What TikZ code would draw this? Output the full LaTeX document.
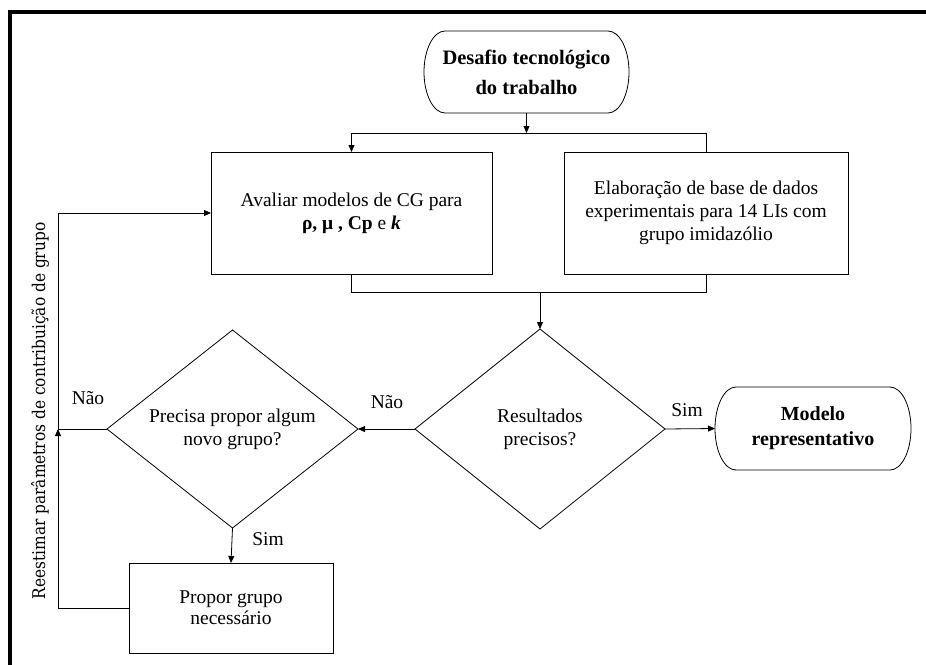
\documentclass[tikz,border=0pt]{standalone}
\usepackage{fontspec}
\setmainfont{Liberation Serif}
\newfontfamily\rotfont{DejaVu Serif}
\usetikzlibrary{arrows.meta,shapes.geometric,calc}
\newcommand\termpath[3]{%
  \draw[lw] ([xshift=#2]#1.north west) -- ([xshift=-#2]#1.north east)
    arc[start angle=90,end angle=-90,x radius=#2,y radius=#3]
    -- ([xshift=#2]#1.south west)
    arc[start angle=270,end angle=90,x radius=#2,y radius=#3] -- cycle;}
\begin{document}
\begin{tikzpicture}[x=1pt,y=1pt,
  every node/.style={font=\fontsize{19.5}{23}\selectfont, inner sep=0pt, outer sep=0pt, align=center},
  lw/.style={line width=0.8pt},
  box/.style={draw, lw},
  dec/.style={draw, lw, shape=diamond, shape aspect=1.26},
  term/.style={font=\fontsize{20.5}{30}\selectfont\bfseries},
  arr/.style={lw, -{Triangle[length=7pt,width=6pt]}},
  lbl/.style={font=\fontsize{19.5}{23}\selectfont}]
\useasboundingbox (0,0) rectangle (926,-664);
\begin{scope}
  \clip (0,0) rectangle (926,-664);
  \draw[line width=4pt] (960,-12) -- (9.5,-12) -- (9.5,-700);
\end{scope}

% nodes
\node[term, minimum width=205pt, minimum height=82pt] (start) at (526.5,-72) {Desafio tecnológico\\do trabalho};
\termpath{start}{21pt}{41pt}
\node[box, minimum width=281pt, minimum height=122pt] (boxA) at (351.5,-213)
  {Avaliar modelos de CG para\\{\bfseries ρ, μ , Cp} e {\bfseries\itshape k}};
\node[box, minimum width=284pt, minimum height=122pt] (boxB) at (706,-213)
  {Elaboração de base de dados\\experimentais para 14 LIs com\\grupo imidazólio};
\node[dec, minimum width=250pt, minimum height=200pt] (d2) at (540,-429)
  {Resultados\\precisos?};
\node[dec, minimum width=251pt, minimum height=198pt] (d1) at (232.5,-429)
  {Precisa propor algum\\novo grupo?};
\node[box, minimum width=204pt, minimum height=90pt, font=\fontsize{19.5}{21}\selectfont] (boxC) at (231,-608)
  {Propor grupo\\necessário};
\node[term, minimum width=196pt, minimum height=83pt, font=\fontsize{20}{25}\selectfont\bfseries] (model) at (813,-428.5)
  {Modelo\\representativo};
\termpath{model}{21pt}{41.5pt}

% junction coordinates
\coordinate (jt) at (526.5,-133);
\coordinate (jtl) at (351.5,-133);
\coordinate (jtr) at (706,-133);
\coordinate (jbl) at (351.5,-292);
\coordinate (jbr) at (706,-292);
\coordinate (jb) at (540,-292);
\coordinate (jl) at (58,-429);

% connectors
\draw[arr] (start.south) -- (jt);
\draw[lw] (jtl) -- (jtr);
\draw[arr] (jtl) -- (boxA.north);
\draw[lw] (jtr) -- (boxB.north);
\draw[lw] (boxA.south) -- (jbl) -- (jbr) -- (boxB.south);
\draw[arr] (jb) -- (d2.north);
\draw[arr] (d2.east) -- (model.west);
\draw[arr] (d2.west) -- (d1.east);
\draw[arr] (d1.south) -- (boxC.north);
\draw[lw] (d1.west) -- (jl);
\draw[arr] (boxC.west) -| (jl);
\draw[arr] (jl) |- (boxA.west);

% labels
\node[lbl] (l1) at (88,-398) {Não};
\node[lbl] (l2) at (387,-402) {Não};
\node[lbl] (l3) at (687,-410) {Sim};
\node[lbl] (l4) at (268,-539) {Sim};
\node[rotate=90, font=\rotfont\fontsize{17.5}{20}\selectfont] (rt) at (40,-411)
  {\scalebox{0.88}[1]{Reestimar parâmetros de contribuição de grupo}};
\end{tikzpicture}
\end{document}
